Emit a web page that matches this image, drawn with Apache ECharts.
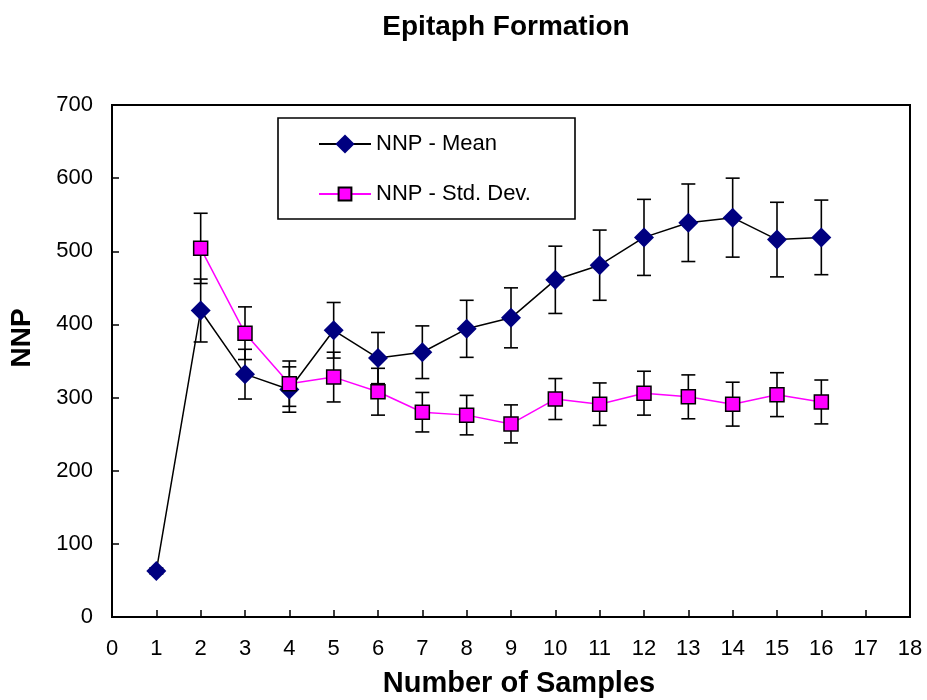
<!DOCTYPE html>
<html>
<head>
<meta charset="utf-8">
<script src="https://cdn.jsdelivr.net/npm/echarts@6/dist/echarts.min.js"></script>
<style>
  html, body { margin: 0; padding: 0; background: #fff; }
  #chart { width: 927px; height: 700px; }
</style>
</head>
<body>
<div id="chart"></div>
<script>
// Sample counts on the x axis
const samples = [1, 2, 3, 4, 5, 6, 7, 8, 9, 10, 11, 12, 13, 14, 15, 16];
// NNP mean and its error half-width
const meanValues = [63, 419, 332, 311, 392, 354, 362, 394, 409, 461, 481, 519, 539, 546, 516, 519];
const meanErrors = [4, 43, 34, 31, 38, 35, 36, 39, 41, 46, 48, 52, 53, 54, 51, 51];
// NNP standard deviation and its error half-width (no value at 1 sample)
const sdValues = [null, 504, 388, 319, 328, 308, 280, 276, 264, 298, 291, 306, 301, 291, 304, 294];
const sdErrors = [null, 48, 36, 31, 34, 32, 27, 27, 26, 28, 29, 30, 30, 30, 30, 30];

const seriesNames = ['NNP - Mean', 'NNP - Std. Dev.'];
const FONT = 'Liberation Sans, Arial, sans-serif';

function points(vals) {
  return samples.map((x, i) => vals[i] == null ? null : [x, vals[i]]).filter(p => p);
}
function errRows(vals, errs) {
  return samples.map((x, i) => vals[i] == null ? null : [x, vals[i] - errs[i], vals[i] + errs[i]]).filter(p => p);
}

function renderErrorBar(params, api) {
  const x = api.value(0);
  const top = api.coord([x, api.value(2)]);
  const bot = api.coord([x, api.value(1)]);
  const hw = 7;
  const style = { stroke: '#000', lineWidth: 1.6 };
  return {
    type: 'group',
    children: [
      { type: 'line', shape: { x1: top[0], y1: top[1], x2: bot[0], y2: bot[1] }, style },
      { type: 'line', shape: { x1: top[0] - hw, y1: top[1], x2: top[0] + hw, y2: top[1] }, style },
      { type: 'line', shape: { x1: bot[0] - hw, y1: bot[1], x2: bot[0] + hw, y2: bot[1] }, style }
    ]
  };
}

const legendText = { fontSize: 22, color: '#000', fontFamily: FONT };

const chart = echarts.init(document.getElementById('chart'), null, { renderer: 'canvas' });

chart.setOption({
  animation: false,
  backgroundColor: '#fff',
  textStyle: { fontFamily: FONT },
  grid: {
    left: 112, right: 17, top: 105, bottom: 83,
    show: true, borderColor: '#000', borderWidth: 2, backgroundColor: 'transparent'
  },
  graphic: [
    {
      type: 'text', x: 506, y: 27,
      style: { text: 'Epitaph Formation', font: 'bold 28px ' + FONT, fill: '#000', align: 'center', verticalAlign: 'middle' }
    },
    {
      type: 'text', x: 519, y: 684,
      style: { text: 'Number of Samples', font: 'bold 29px ' + FONT, fill: '#000', align: 'center', verticalAlign: 'middle' }
    },
    {
      type: 'text', x: 22, y: 338, rotation: Math.PI / 2,
      style: { text: 'NNP', font: 'bold 28px ' + FONT, fill: '#000', align: 'center', verticalAlign: 'middle' }
    },
    {
      type: 'rect', shape: { x: 278, y: 118, width: 297, height: 101 },
      style: { fill: '#fff', stroke: '#000', lineWidth: 1.6 }, z: 5
    }
  ],
  legend: [
    {
      data: [seriesNames[0]],
      left: 318, top: 133, padding: 0, z: 10,
      itemWidth: 52, itemHeight: 24,
      textStyle: legendText
    },
    {
      data: [seriesNames[1]],
      left: 318, top: 183, padding: 0, z: 10,
      itemWidth: 52, itemHeight: 16,
      textStyle: legendText
    }
  ],
  xAxis: {
    type: 'value', min: 0, max: 18, interval: 1,
    axisLine: { lineStyle: { color: '#000', width: 2 } },
    axisTick: { inside: true, length: 7, lineStyle: { color: '#000', width: 1.5 } },
    axisLabel: { fontSize: 22, color: '#000', margin: 21, fontFamily: FONT },
    splitLine: { show: false }
  },
  yAxis: {
    type: 'value', min: 0, max: 700, interval: 100,
    axisLine: { show: true, lineStyle: { color: '#000', width: 2 } },
    axisTick: { show: true, inside: true, length: 7, lineStyle: { color: '#000', width: 1.5 } },
    axisLabel: { fontSize: 22, color: '#000', margin: 19, fontFamily: FONT },
    splitLine: { show: false }
  },
  series: [
    {
      type: 'custom', name: 'mean-error', renderItem: renderErrorBar,
      data: errRows(meanValues, meanErrors), encode: { x: 0, y: [1, 2] }, z: 1, silent: true
    },
    {
      type: 'custom', name: 'sd-error', renderItem: renderErrorBar,
      data: errRows(sdValues, sdErrors), encode: { x: 0, y: [1, 2] }, z: 1, silent: true
    },
    {
      type: 'line', name: seriesNames[0], data: points(meanValues),
      symbol: 'diamond', symbolSize: 20,
      lineStyle: { color: '#000', width: 1.5 },
      itemStyle: { color: '#000080', borderWidth: 0 },
      z: 3
    },
    {
      type: 'line', name: seriesNames[1], data: points(sdValues),
      symbol: 'rect', symbolSize: 14,
      lineStyle: { color: '#ff00ff', width: 1.5 },
      itemStyle: { color: '#ff00ff', borderColor: '#000', borderWidth: 1.5 },
      z: 4
    }
  ]
});
</script>
</body>
</html>
